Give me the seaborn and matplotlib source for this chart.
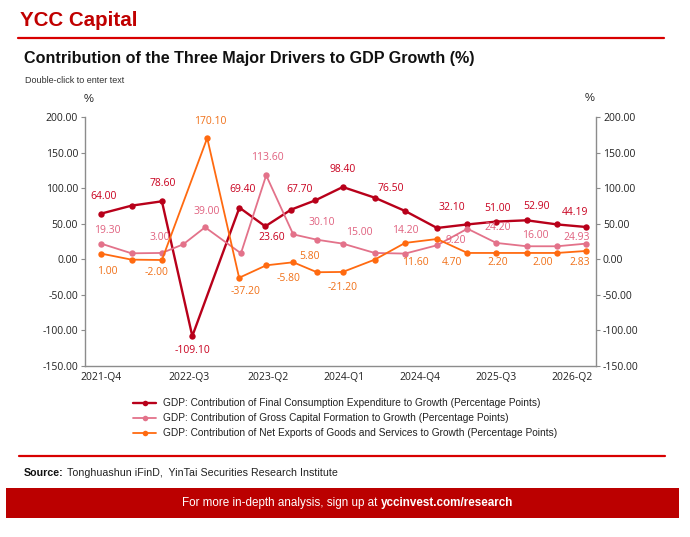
import numpy as np
import pandas as pd
import seaborn as sns
import matplotlib.pyplot as plt
from matplotlib.lines import Line2D
from matplotlib.patches import Rectangle

# x positions (period index, as drawn) and values
cons_x = [0, 1, 2, 3, 4.55, 5.4, 6.25, 7.05, 7.95, 9, 10, 11.05, 12.05, 13, 14, 15, 15.95]
cons_v = [64.2, 75.4, 81.5, -108.0, 72.6, 46.3, 69.8, 82.9, 101.6, 86.6, 67.9, 44.0,
          49.0, 53.0, 54.8, 49.0, 45.4]
cap_x = [0, 1, 2, 2.7, 3.42, 4.6, 5.43, 6.32, 7.1, 7.95, 9, 10, 11.05, 12.05, 13, 14, 15, 15.95]
cap_v = [22.0, 8.4, 8.9, 21.0, 45.0, 8.4, 118.0, 35.0, 27.5, 22.0, 8.9, 8.0, 19.7,
         43.0, 23.0, 18.3, 18.3, 22.0]
nx_x = [0, 1, 2, 3.49, 4.54, 5.43, 6.32, 7.1, 7.95, 9, 10, 11.05, 12.05, 13, 14, 15, 15.95]
nx_v = [8.0, -0.5, -1.0, 170.4, -26.0, -8.5, -4.2, -18.2, -17.8, -0.5, 23.0, 28.5,
        8.9, 8.9, 8.9, 8.9, 11.7]

tick_pos = [0, 2.9, 5.5, 8, 10.5, 13, 15.5]
tick_lab = ['2021-Q4', '2022-Q3', '2023-Q2', '2024-Q1', '2024-Q4', '2025-Q3', '2026-Q2']

series_names = [
    'GDP: Contribution of Final Consumption Expenditure to Growth (Percentage Points)',
    'GDP: Contribution of Gross Capital Formation to Growth (Percentage Points)',
    'GDP: Contribution of Net Exports of Goods and Services to Growth (Percentage Points)',
]

# data labels: (point index, text, dx px, dy px)
cons_lab = [(0, '64.00', 2, -17), (2, '78.60', 1, -18), (3, '-109.10', 0, 14),
            (4, '69.40', 3, -18), (5, '23.60', 6, 11), (6, '67.70', 8, -20),
            (8, '98.40', 0, -18), (9, '76.50', 16, -9), (11, '32.10', 15, -20),
            (13, '51.00', 1, -13), (14, '52.90', 10, -14), (16, '44.19', -11, -14)]
cap_lab = [(0, '19.30', 6, -13), (2, '3.00', -2, -15), (4, '39.00', 2, -16),
           (6, '113.60', 1, -18), (8, '30.10', 5, -17), (9, '15.00', 16, -11),
           (11, '14.20', 0, -23), (13, '9.20', -12, 12), (14, '24.20', 1, -15),
           (15, '16.00', 9, -11), (17, '24.93', -9, -6)]
nx_lab = [(0, '1.00', 6, 18), (2, '-2.00', -5, 13), (3, '170.10', 3, -17),
          (4, '-37.20', 6, 14), (6, '-5.80', -5, 16), (6, '5.80', 16, -6),
          (8, '-21.20', 0, 16), (10, '11.60', 10, 20), (12, '4.70', -15, 10),
          (13, '2.20', 1, 10), (15, '2.00', -14, 10), (16, '2.83', -6, 12)]

RED = '#c00000'
c_line = ['#b8001a', '#e3728a', '#ff6a10']
c_text = ['#c8001e', '#e0607e', '#f07018']
widths = [1.7, 1.3, 1.3]

sns.set_theme(style='white')
plt.rcParams['font.family'] = ['Liberation Sans', 'DejaVu Sans']

fig = plt.figure(figsize=(6.9, 5.37), dpi=100)
ax = fig.add_axes([85 / 690, 1 - 366 / 537, 511 / 690, 249 / 537])

data = [(cons_x, cons_v), (cap_x, cap_v), (nx_x, nx_v)]
for i, (xs, vs) in enumerate(data):
    df = pd.DataFrame({'x': xs, 'v': vs})
    sns.lineplot(data=df, x='x', y='v', ax=ax, color=c_line[i], linewidth=widths[i],
                 marker='o', markersize=4.6, markeredgewidth=0, sort=False)

for i, labs in enumerate([cons_lab, cap_lab, nx_lab]):
    xs, vs = data[i]
    for idx, txt, dx, dy in labs:
        ax.annotate(txt, (xs[idx], vs[idx]), xytext=(dx * 0.72, -dy * 0.72),
                    textcoords='offset points', ha='center', va='center',
                    fontsize=7.5, color=c_text[i], family=['Open Sans', 'DejaVu Sans'])

ax.set_xlim(-0.53, 16.28)
ax.set_ylim(-150, 200)
yt = np.arange(-150, 201, 50)
ax.set_yticks(yt)
ax.set_yticklabels([f'{t:.2f}' for t in yt])
ax.set_xticks(tick_pos)
ax.set_xticklabels(tick_lab)
ax.set_xlabel('')
ax.set_ylabel('')

ax2 = ax.twinx()
ax2.set_ylim(-150, 200)
ax2.set_yticks(yt)
ax2.set_yticklabels([f'{t:.2f}' for t in yt])

for a in (ax, ax2):
    a.spines['top'].set_visible(False)
    for s in ('left', 'right', 'bottom'):
        a.spines[s].set_color('#8c8c8c')
        a.spines[s].set_linewidth(1.0)
    a.tick_params(axis='both', which='both', length=3, width=0.8, color='#8c8c8c',
                  labelsize=7.5, labelcolor='#222222', pad=2)
    for t in a.get_xticklabels() + a.get_yticklabels():
        t.set_family(['Open Sans', 'DejaVu Sans'])
ax.tick_params(axis='x', length=0, pad=4)
ax.spines['right'].set_visible(False)
ax2.spines['left'].set_visible(False)
ax2.spines['bottom'].set_visible(False)

fig.text(89 / 690, 1 - 99 / 537, '%', fontsize=8, ha='center', va='center', color='#222222')
fig.text(590 / 690, 1 - 98 / 537, '%', fontsize=8, ha='center', va='center', color='#222222')

# header
fig.text(20 / 690, 1 - 21 / 537, 'YCC Capital', fontsize=14.8, fontweight='bold',
         color=RED, va='center', ha='left')
fig.add_artist(Line2D([18 / 690, 664 / 690], [1 - 38 / 537] * 2, color='#d80000', lw=1.6))
fig.text(24 / 690, 1 - 59 / 537,
         'Contribution of the Three Major Drivers to GDP Growth (%)',
         fontsize=11.6, fontweight='bold', color='#111111', va='center', ha='left')
fig.text(25 / 690, 1 - 80 / 537, 'Double-click to enter text', fontsize=6.5,
         color='#333333', va='center', ha='left')

# legend
handles = [Line2D([], [], color=c_line[i], lw=widths[i], marker='o', markersize=4,
                  markeredgewidth=0) for i in range(3)]
fig.legend(handles, series_names, loc='upper left', bbox_to_anchor=(124 / 690, 1 - 389 / 537),
           frameon=False, fontsize=7.3, handlelength=2.3, handletextpad=0.6,
           labelspacing=0.5, labelcolor='#222222')

# footer
fig.add_artist(Line2D([19 / 690, 665 / 690], [1 - 456 / 537] * 2, color='#d80000', lw=1.6))
fig.text(24 / 690, 1 - 473 / 537, 'Source:', fontsize=7.7, fontweight='bold',
         color='#111111', va='center', ha='left')
fig.text(67 / 690, 1 - 473 / 537, 'Tonghuashun iFinD,  YinTai Securities Research Institute',
         fontsize=7.7, color='#222222', va='center', ha='left')
fig.add_artist(Rectangle((6 / 690, 1 - 518 / 537), 673 / 690, 30 / 537,
                         transform=fig.transFigure, color='#bb0000', lw=0))
r = fig.canvas.get_renderer()
t1 = fig.text(0, 1 - 503 / 537, 'For more in-depth analysis, sign up at ', fontsize=8.4,
              color='white', va='center', ha='left')
t2 = fig.text(0, 1 - 503 / 537, 'yccinvest.com/research', fontsize=8.4, fontweight='bold',
              color='white', va='center', ha='left')
w1 = t1.get_window_extent(r).width
w2 = t2.get_window_extent(r).width
x0 = 348 - (w1 + w2) / 2
t1.set_x(x0 / 690)
t2.set_x((x0 + w1) / 690)

fig.savefig('out.png', dpi=100)
